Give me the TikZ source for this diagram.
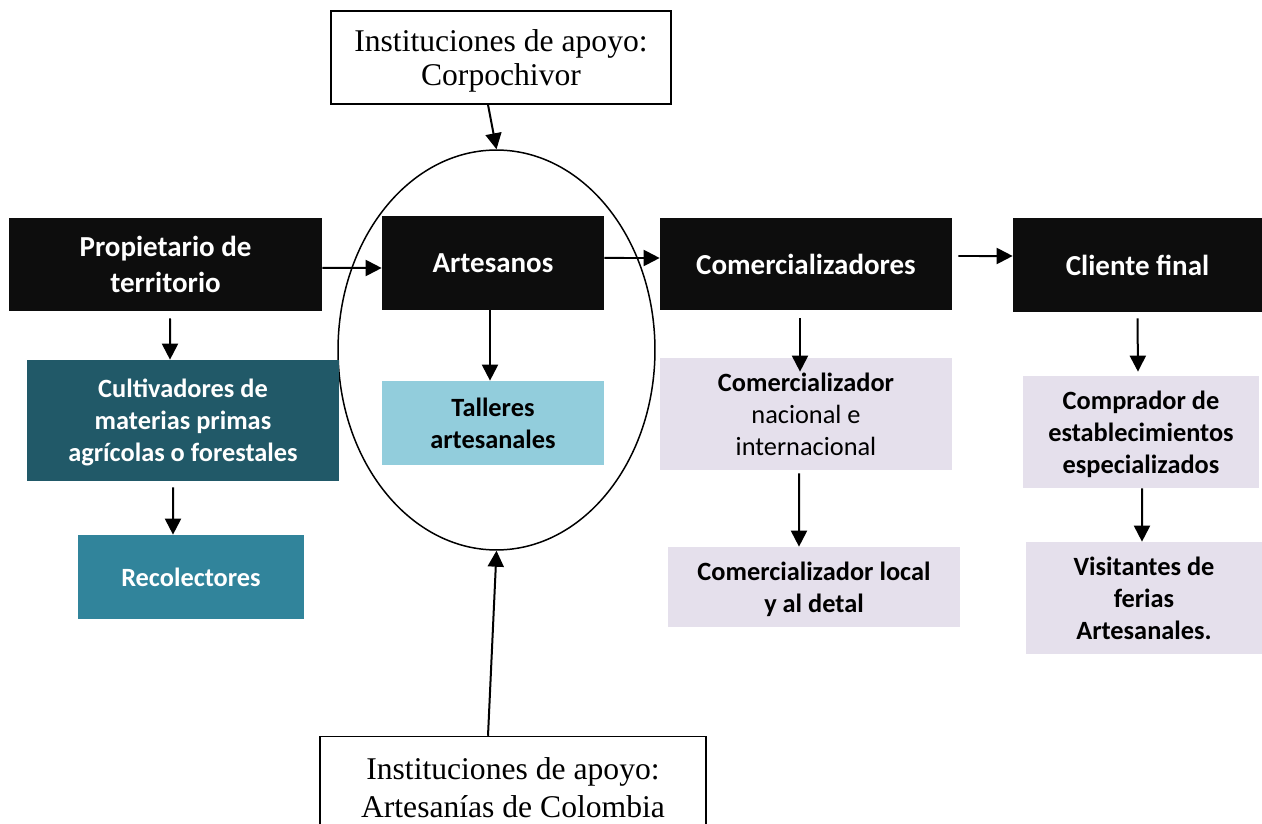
\documentclass[tikz,border=0pt]{standalone}
\usepackage{fontspec}
\setmainfont{Liberation Serif}
\newfontfamily\carlito{Carlito}
\usetikzlibrary{shapes.geometric,arrows.meta}

\definecolor{casinegro}{HTML}{0D0D0D}
\definecolor{tealoscuro}{HTML}{215968}
\definecolor{tealmedio}{HTML}{31849B}
\definecolor{tealclaro}{HTML}{92CDDC}
\definecolor{lila}{HTML}{E5E0EC}

\begin{document}
\begin{tikzpicture}[x=0.02cm,y=-0.02cm,
  caja/.style={rectangle, inner sep=0pt, align=center, text depth=-2pt,
    font=\carlito\bfseries\fontsize{15}{18.2}\selectfont},
  negra/.style={caja, fill=casinegro, text=white, text depth=,
    font=\carlito\bfseries\fontsize{16.5}{20}\selectfont},
  apoyo/.style={draw, line width=0.03cm, fill=white, inner sep=0pt,
    align=center, font=\fontsize{18}{19}\selectfont},
  flecha/.style={line width=0.04cm, -{Triangle[length=0.32cm,width=0.32cm]}}]
\useasboundingbox (0,0) rectangle (1262,824);

% grupo de artesanos
\node[draw, ellipse, line width=0.03cm, minimum width=6.34cm, minimum height=8cm] (grupo) at (496.5,350) {};

% fila principal
\node[negra, minimum width=6.26cm, minimum height=1.86cm] (prop) at (165.5,264.5) {Propietario de\\territorio};
\node[negra, minimum width=4.44cm, minimum height=1.88cm] (art) at (493,263) {Artesanos};
\node[negra, minimum width=5.84cm, minimum height=1.84cm] (com) at (806,264) {Comercializadores};
\node[negra, minimum width=4.98cm, minimum height=1.88cm] (cli) at (1137.5,265) {Cliente final};

% cajas de abajo
\node[caja, fill=tealoscuro, text=white, minimum width=6.24cm, minimum height=2.42cm] (cult) at (183,420.5) {Cultivadores de\\materias primas\\agrícolas o forestales};
\node[caja, fill=tealmedio, text=white, minimum width=4.52cm, minimum height=1.68cm] (rec) at (191,577) {Recolectores};
\node[caja, fill=tealclaro, minimum width=4.44cm, minimum height=1.68cm] (tall) at (493,423) {Talleres\\artesanales};
\node[caja, fill=lila, font=\carlito\fontsize{15}{18.2}\selectfont, minimum width=5.84cm, minimum height=2.24cm] (nac) at (806,414) {\textbf{Comercializador}\\nacional e\\internacional};
\node[caja, fill=lila, minimum width=5.84cm, minimum height=1.6cm] (loc) at (814,587) {Comercializador local\\y al detal};
\node[caja, fill=lila, text depth=-5pt, minimum width=4.72cm, minimum height=2.24cm] (compr) at (1141,432) {Comprador de\\establecimientos\\especializados};
\node[caja, fill=lila, minimum width=4.72cm, minimum height=2.24cm] (vis) at (1144,598) {Visitantes de\\ferias\\Artesanales.};

% instituciones
\node[apoyo, text depth=-3pt, minimum width=6.8cm, minimum height=1.86cm] (corp) at (501,57.5) {Instituciones de apoyo:\\Corpochivor};
\node[apoyo, font=\fontsize{18}{21.5}\selectfont, minimum width=7.72cm, minimum height=2.06cm] (artcol) at (513,788) {Instituciones de apoyo:\\Artesanías de Colombia};

% flechas
\draw[flecha] ([yshift=-0.07cm]prop.east) -- ([yshift=-0.1cm]art.west);
\draw[flecha] ([yshift=0.1cm]art.east) -- ([yshift=0.12cm]com.west);
\draw[flecha] ([xshift=0.12cm,yshift=0.16cm]com.east) -- ([yshift=0.18cm]cli.west);

\draw[flecha] ([xshift=0.09cm,yshift=-0.14cm]prop.south) -- ([xshift=-0.26cm]cult.north);
\draw[flecha] ([xshift=-0.2cm,yshift=-0.12cm]cult.south) -- ([xshift=-0.36cm]rec.north);
\draw[flecha] ([xshift=-0.06cm]art.south) -- ([xshift=-0.06cm]tall.north);
\draw[flecha] ([xshift=-0.12cm,yshift=-0.16cm]com.south) -- ([xshift=-0.12cm,yshift=-0.28cm]nac.north);
\draw[flecha] ([xshift=-0.14cm,yshift=-0.06cm]nac.south) -- ([xshift=-0.3cm]loc.north);
\draw[flecha] ([yshift=-0.12cm]cli.south) -- ([xshift=-0.06cm,yshift=0.08cm]compr.north);
\draw[flecha] ([xshift=0.02cm]compr.south) -- ([xshift=-0.04cm]vis.north);

\draw[flecha] ([xshift=-0.26cm]corp.south) -- (grupo.north);
\draw[flecha] ([xshift=-0.5cm]artcol.north) -- (grupo.south);

\end{tikzpicture}
\end{document}
